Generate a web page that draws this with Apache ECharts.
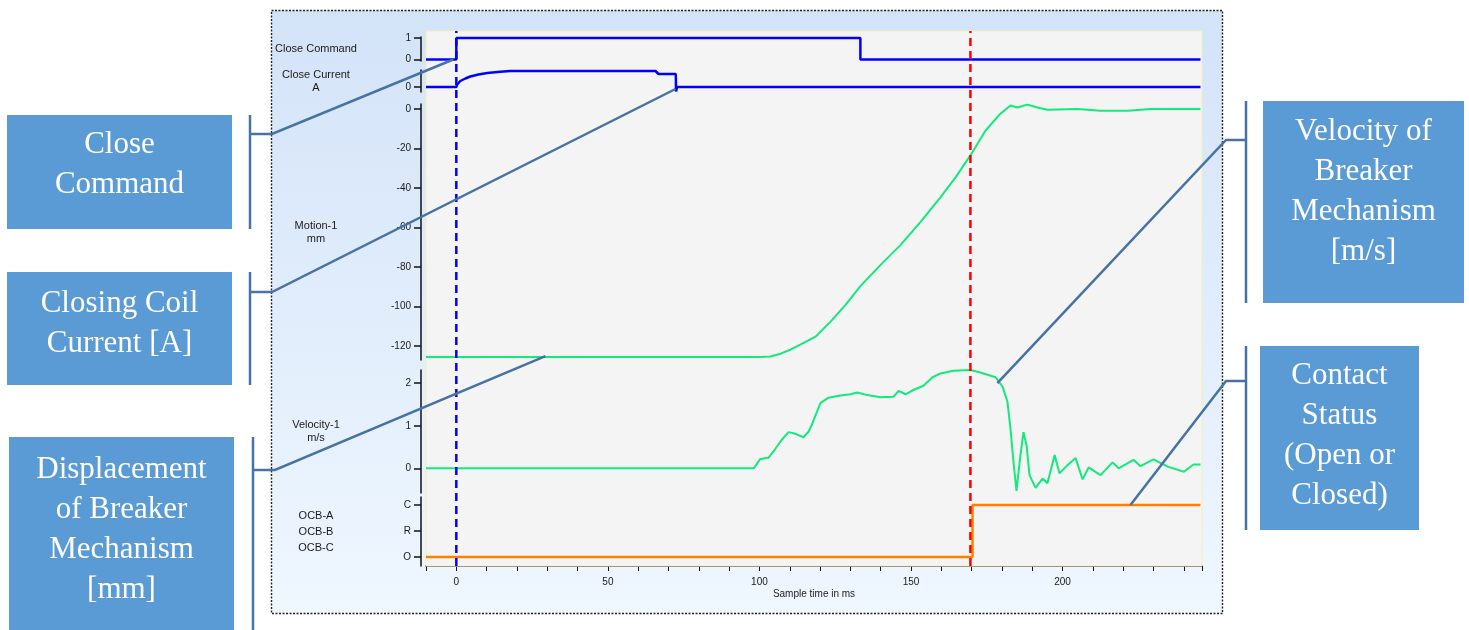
<!DOCTYPE html>
<html><head><meta charset="utf-8">
<script src="https://cdn.jsdelivr.net/npm/echarts@6/dist/echarts.min.js"></script>
<style>html,body{margin:0;padding:0;background:#fff;}#c{width:1469px;height:630px;}</style>
</head><body><div id="c"></div>
<script>
// ---------------- data ----------------
const timeRange = [-10, 246];
const closeCommand = [[-10,0],[0,0],[0,1],[133.3,1],[133.3,0],[245.5,0]];
const closeCurrent = [[-10,0],[0,0],[0.3,0.25],[1.3,0.6],[3,0.85],[4.6,1.05],[7.3,1.25],[10.2,1.4],[14.5,1.52],[17.8,1.6],[65.7,1.6],[66.7,1.3],[72.4,1.3],[72.5,-0.45],[72.8,0],[245.5,0]];
const motion = [[-10,-125.5],[100.3,-125.5],[103.6,-125.2],[107,-123.8],[110.2,-121.8],[113.5,-119.2],[118.5,-115.2],[123.4,-107.7],[128.4,-99.1],[133.3,-89.6],[139.9,-79],[146.5,-68.9],[153.1,-57.3],[159.7,-44.7],[164.7,-34.6],[169.6,-23.5],[174.6,-10.9],[179.5,-2.4],[182.8,1.7],[185.1,0.7],[188.4,2.2],[191.7,0.7],[195,-0.4],[205,0],[212.5,-0.9],[221.5,-0.9],[229,0],[245.5,0]];
const velocity = [[-10,0],[98.1,0],[100.3,0.22],[103,0.25],[104.6,0.39],[106.9,0.63],[109.6,0.85],[111.9,0.81],[114.5,0.73],[116.2,0.86],[117.5,1.06],[120.1,1.53],[122.8,1.66],[126.7,1.71],[130,1.74],[132.3,1.78],[135.6,1.72],[139.9,1.67],[144.2,1.68],[145.9,1.82],[148.2,1.74],[150.8,1.84],[154.1,1.94],[157.1,2.14],[159.7,2.23],[164,2.29],[169.6,2.31],[172.9,2.25],[177.9,2.14],[180.2,1.92],[181.8,1.57],[182.8,0.94],[183.8,0.15],[184.8,-0.53],[186.1,0.31],[187.1,0.85],[188.1,0.55],[189.1,-0.16],[191.1,-0.46],[193.4,-0.24],[195,-0.35],[197.4,0.31],[199,-0.12],[201.7,0.08],[204.3,0.24],[206.6,-0.26],[208.6,0.02],[212.5,-0.16],[216.5,0.14],[218.5,0],[223.4,0.2],[225.7,0.05],[230,0.21],[234.7,0.04],[240,-0.08],[243.2,0.09],[245.5,0.09]];
const contactStatus = [[-10,0],[170.3,0],[170.3,2],[245.5,2]];
const ocbLabels = ['O','R','C'];
const commandTicks = [0,1];
const currentTicks = [0];
const motionTicks = [0,-20,-40,-60,-80,-100,-120];
const velocityTicks = [0,1,2];
const ocbTicks = [0,1,2];
const markerTimes = [0, 169.6];
const markerColors = ['#0000ff','#ff0000'];
const xLabelStep = 50;

// ---------------- layout ----------------
const L = 426, W = 776;
const grids = [
  {top:31, height:535},   // background / markers
  {top:37, height:24},    // close command
  {top:70, height:22},    // close current
  {top:104, height:256},  // motion
  {top:370, height:123},  // velocity
  {top:497, height:69}    // OCB
];
const txt = '#1a1a1a';
const sans = 'Liberation Sans, Arial, sans-serif';

function yAx(i, min, max, ticks, name, fmt, nameLH){
  return {
    gridIndex:i, type:'value', min:min, max:max, position:'left', offset:5,
    axisLine:{show:true, onZero:false, lineStyle:{color:'#111', width:1.5}},
    axisTick:{show:true, length:7, customValues:ticks, lineStyle:{color:'#111', width:1.5}},
    axisLabel:{show:true, customValues:ticks, margin:10, fontSize:10, color:txt, fontFamily:sans, formatter:fmt||undefined},
    splitLine:{show:false},
    name:name, nameLocation:'middle', nameRotate:0, nameGap:105,
    nameTextStyle:{fontSize:11, color:txt, fontFamily:sans, align:'center', verticalAlign:'middle', lineHeight:nameLH||13}
  };
}

const xAxes = grids.map((g,i)=>({
  gridIndex:i, type:'value', min:timeRange[0], max:timeRange[1], interval:10,
  show: i===5,
  axisLine:{show:true, onZero:false, lineStyle:{color:'#111', width:1.5}},
  axisTick:{show:true, length:5, lineStyle:{color:'#111'}},
  axisLabel:{show:true, interval:0, margin:11, fontSize:10, color:txt, fontFamily:sans,
    showMinLabel:true, showMaxLabel:true,
    formatter:v=> (v>=0 && Math.abs(v % xLabelStep)<1e-6) ? String(v) : ''},
  splitLine:{show:false},
  name: i===5 ? 'Sample time in ms' : '', nameLocation:'middle', nameGap:23,
  nameTextStyle:{fontSize:10, color:txt, fontFamily:sans}
}));

const yAxes = [
  {gridIndex:0, type:'value', min:0, max:1, show:false},
  yAx(1, -0.07, 1.047, commandTicks, 'Close Command'),
  yAx(2, -0.5, 1.7, currentTicks, 'Close Current\nA'),
  yAx(3, -127, 2.5, motionTicks, 'Motion-1\nmm'),
  yAx(4, -0.58, 2.31, velocityTicks, 'Velocity-1\nm/s'),
  yAx(5, -0.35, 2.31, ocbTicks, 'OCB-A\nOCB-B\nOCB-C', v=>ocbLabels[v], 16)
];

function lineSeries(i, data, color, width){
  return {type:'line', xAxisIndex:i, yAxisIndex:i, data:data, showSymbol:false, symbol:'none',
    clip:false, z:3, lineStyle:{color:color, width:width}};
}

const series = [
  lineSeries(1, closeCommand, '#0000ff', 2.5),
  lineSeries(2, closeCurrent, '#0000ff', 2.5),
  lineSeries(3, motion, '#12ea7c', 2),
  lineSeries(4, velocity, '#12ea7c', 2),
  lineSeries(5, contactStatus, '#ff8000', 2.5)
];
markerTimes.forEach((t,k)=>{
  series.push({type:'line', xAxisIndex:0, yAxisIndex:0, data:[[t,0],[t,1]], showSymbol:false, symbol:'none',
    z:6, lineStyle:{color:markerColors[k], width:2.5, type:[8,5]}});
});

const option = {
  animation:false,
  backgroundColor:'#ffffff',
  grid: grids.map((g,i)=>({left:L, width:W, top:g.top, height:g.height,
    show: i===0, backgroundColor:'#f4f4f4', borderColor:'#f3efb8', borderWidth:1, z:1})),
  xAxis:xAxes, yAxis:yAxes, series:series
};

const chart = echarts.init(document.getElementById('c'), null, {renderer:'canvas'});
chart.setOption(option);

// ---------------- annotations ----------------
const boxColor = '#5b9bd5', connColor = '#4673a4';
const annotations = [
  {text:'Close\nCommand', box:[7,115,225,114], tc:[119.5,165], bx:250, by:[115,229], stubY:134, stubX:272, grid:1, at:[-1,0]},
  {text:'Closing Coil\nCurrent [A]', box:[7,272,225,113], tc:[119.5,324], bx:250, by:[272,385], stubY:292, stubX:272, grid:2, at:[72.3,-0.2]},
  {text:'Displacement\nof Breaker\nMechanism\n[mm]', box:[9,437,225,193], tc:[121.5,530], bx:253, by:[437,630], stubY:470, stubX:275, grid:3, at:[29.4,-125]},
  {text:'Velocity of\nBreaker\nMechanism\n[m/s]', box:[1263,101,201,202], tc:[1363.5,192], bx:1246, by:[101,303], stubY:140, stubX:1226, grid:4, at:[178.5,2.0]},
  {text:'Contact\nStatus\n(Open or\nClosed)', box:[1260,346,159,184], tc:[1339.5,436], bx:1246, by:[346,530], stubY:381, stubX:1226, grid:5, at:[222.4,2]}
];
const graphic = [{
  type:'rect', z:-10, shape:{x:271.5, y:10.5, width:951, height:603},
  style:{fill:new echarts.graphic.LinearGradient(0,0,0,1,[{offset:0,color:'#d3e3f8'},{offset:1,color:'#eff7ff'}]),
    stroke:'#222222', lineWidth:1.4, lineDash:[2,1.5]}
}];
annotations.forEach(a=>{
  const p = chart.convertToPixel({xAxisIndex:a.grid, yAxisIndex:a.grid}, a.at);
  graphic.push({type:'rect', z:50, shape:{x:a.box[0], y:a.box[1], width:a.box[2], height:a.box[3]}, style:{fill:boxColor}});
  graphic.push({type:'text', z:51, x:a.tc[0], y:a.tc[1], style:{text:a.text, fill:'#ffffff',
    font:'31px "Liberation Serif", "Times New Roman", serif', textAlign:'center', textVerticalAlign:'middle', lineHeight:40}});
  graphic.push({type:'line', z:50, shape:{x1:a.bx, y1:a.by[0], x2:a.bx, y2:a.by[1]}, style:{stroke:connColor, lineWidth:2.5}});
  graphic.push({type:'polyline', z:50, shape:{points:[[a.bx,a.stubY],[a.stubX,a.stubY],[p[0],p[1]]]},
    style:{stroke:connColor, lineWidth:2.5, fill:null}});
});
chart.setOption({graphic:graphic});
</script></body></html>
